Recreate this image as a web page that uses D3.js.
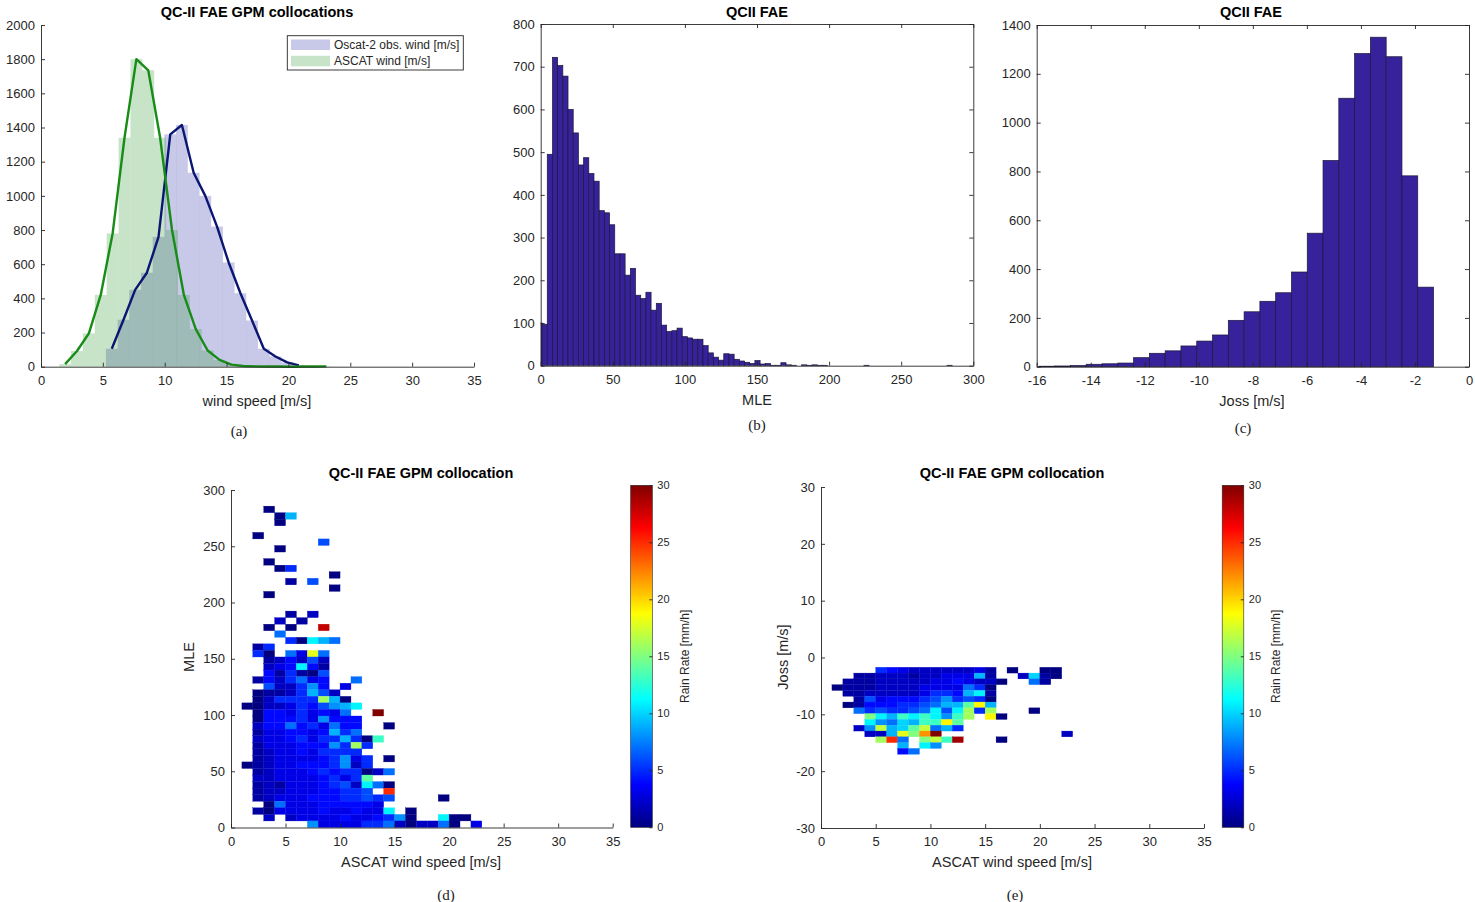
<!DOCTYPE html>
<html><head><meta charset="utf-8">
<script src="https://cdn.jsdelivr.net/npm/d3@7"></script>
<style>
body{margin:0;background:#fff;}
</style></head><body>
<svg id="fig" width="1475" height="902" xmlns="http://www.w3.org/2000/svg"></svg>
<script>
// ---------------- DATA ----------------
// (a) wind speed histograms (bin centers + counts)
const oscatCenters = [5.72, 6.67, 7.61, 8.56, 9.50, 10.45, 11.39, 12.34, 13.28, 14.23, 15.17, 16.12, 17.06, 18.01, 18.95, 19.90, 20.84];
const oscatCounts  = [105, 275, 450, 550, 760, 1360, 1415, 1135, 1000, 820, 610, 430, 270, 105, 60, 25, 8];
const ascatCenters = [1.95, 2.91, 3.87, 4.83, 5.79, 6.75, 7.71, 8.67, 9.63, 10.59, 11.55, 12.51, 13.47, 14.43, 15.39, 16.35, 17.31, 18.27, 19.23, 20.19, 21.15, 22.11, 23.07];
const ascatCounts  = [15, 92, 195, 420, 780, 1340, 1800, 1735, 1340, 800, 420, 220, 95, 40, 12, 4, 2, 1, 1, 0, 1, 1, 2];
const legendLabels = ["Oscat-2 obs. wind [m/s]", "ASCAT wind [m/s]"];
const windTicks = [0, 5, 10, 15, 20, 25, 30, 35];
const countTicksA = [0, 200, 400, 600, 800, 1000, 1200, 1400, 1600, 1800, 2000];

// (b) MLE histogram
const mleBinStart = -2.65, mleBinWidth = 3.6;
const mleCounts = [100, 97, 495, 722, 703, 678, 600, 545, 470, 487, 450, 432, 363, 358, 330, 262, 262, 212, 228, 165, 157, 172,
  130, 146, 95, 80, 82, 88, 68, 65, 62, 62, 47, 30, 20, 13, 28, 27, 15, 11, 8, 5, 12, 4, 5, 1, 1, 7, 2, 1, 0, 2, 1, 2, 1, 1,
  0, 0, 0, 0, 0, 0, 0, 1, 0, 0, 0, 0, 0, 0, 0, 0, 0, 0, 0, 0, 0, 0, 0, 1];
const mleTicks = [0, 50, 100, 150, 200, 250, 300];
const countTicksB = [0, 100, 200, 300, 400, 500, 600, 700, 800];

// (c) Joss histogram
const jossBinStart = -15.92, jossBinWidth = 0.5843;
const jossCounts = [2, 3, 5, 10, 12, 15, 37, 55, 65, 85, 105, 130, 190, 225, 268, 303, 388, 547, 845, 1100, 1283, 1350, 1270, 782, 326];
const jossTicks = [-16, -14, -12, -10, -8, -6, -4, -2, 0];
const countTicksC = [0, 200, 400, 600, 800, 1000, 1200, 1400];

// (d) MLE vs ASCAT wind speed, mean rain rate per cell (base-36 digit = mm/h, '.' = empty)
// columns = 1 m/s bins starting at 0; rows listed from top (highest MLE) to bottom
const dColStep = 1, dRowStep = 5.83;
const dRows = [
  "...0", "....09", "....0", "", "..0", "........6", "....0", "", "...0", "....05",
  ".........0", ".....1.6", ".........0", "...0", "", "", ".....1.2", "....2.1", "...0.0..s", "....7",
  ".....50b97", "..15", "..50.73i7", "...124262", "...234b41", "...415106", "..1425734..7", "...622584.3", "..01125962", "..025555g90",
  ".0022354689b", "..044353437..u", "..0444538444", "..2447453744..0", "..1334434957", "..23345355950d", "..133344485g5", "..1233435555", "..12333345835.0", ".012334445825",
  "..1233345455027", "..2233334535e", "..1213334562b70", "..12233344556.p", "..1233344455656....0", "...07333444443", "..103333433433b.0", "...2.233334334580..b00", ".......83333557202270.3"
];
const mleAxisTicks = [0, 50, 100, 150, 200, 250, 300];

// (e) Joss vs ASCAT wind speed (rows from top)
const eColStep = 1, eRowTop = -1.72, eRowStep = 1.02;
const eRows = [
  ".....54322222231.0..00", "...1122212233391..2a10", "..111222223343220..71", ".011122223333750", "..112222235549b1",
  "...1634445685650", "..01444556799ej9", "...7565567b6bg5g...0", "....fb9dbdb8dg.j0", "....b87a9ddje",
  "...28h9aeh795", "....229ifmu...........2", ".....gp7.fhdt...0", ".......9.b8", ".......47"
];
const jossAxisTicks = [-30, -20, -10, 0, 10, 20, 30];
const rainTicks = [0, 5, 10, 15, 20, 25, 30];

// ---------------- STYLE / LAYOUT ----------------
const FONT = '"Liberation Sans", Arial, Helvetica, sans-serif';
const SERIF = '"Liberation Serif", "DejaVu Serif", serif';
const AX = "#262626";
const BAR = "#37229c";
const svg = d3.select("#fig");

const jet = t => {
  t = Math.max(0, Math.min(1, t));
  const c = v => Math.round(255 * Math.max(0, Math.min(1, v)));
  return `rgb(${c(1.5 - Math.abs(4 * t - 3))},${c(1.5 - Math.abs(4 * t - 2))},${c(1.5 - Math.abs(4 * t - 1))})`;
};

function styleAxis(sel, fs) {
  sel.attr("font-size", null).attr("font-family", null);
  sel.selectAll("path.domain").attr("stroke", AX).attr("stroke-width", 0.9);
  sel.selectAll(".tick line").attr("stroke", AX).attr("stroke-width", 0.9);
  sel.selectAll(".tick text").attr("fill", AX).style("font-family", FONT).style("font-size", (fs || 13) + "px");
}

function axes(g, x, y, xt, yt, box) {
  const tl = 4;
  const fmt = d => String(d);
  const [xa, xb] = x.range(), [ya, yb] = y.range();
  styleAxis(g.append("g").attr("transform", `translate(0,${ya})`)
    .call(d3.axisBottom(x).tickValues(xt).tickSizeInner(-tl).tickSizeOuter(0).tickPadding(9).tickFormat(fmt)));
  styleAxis(g.append("g").attr("transform", `translate(${xa},0)`)
    .call(d3.axisLeft(y).tickValues(yt).tickSizeInner(-tl).tickSizeOuter(0).tickPadding(6).tickFormat(fmt)));
  if (box) {
    styleAxis(g.append("g").attr("transform", `translate(0,${yb})`)
      .call(d3.axisTop(x).tickValues(xt).tickSizeInner(-tl).tickSizeOuter(0).tickFormat("")));
    styleAxis(g.append("g").attr("transform", `translate(${xb},0)`)
      .call(d3.axisRight(y).tickValues(yt).tickSizeInner(-tl).tickSizeOuter(0).tickFormat("")));
  }
}

function text(x, y, s, o = {}) {
  const t = svg.append("text").attr("x", x).attr("y", y).text(s)
    .attr("text-anchor", o.anchor || "middle").attr("dominant-baseline", "central")
    .style("font-family", o.font || FONT).style("font-size", (o.size || 14.5) + "px")
    .attr("fill", o.fill || AX);
  if (o.bold) t.style("font-weight", "bold");
  if (o.rot) t.attr("transform", `rotate(${o.rot},${x},${y})`);
  return t;
}

function clip(id, x, y) {
  svg.append("clipPath").attr("id", id).append("rect")
    .attr("x", x.range()[0]).attr("y", y.range()[1])
    .attr("width", x.range()[1] - x.range()[0]).attr("height", y.range()[0] - y.range()[1]);
}

// ---------------- (a) ----------------
{
  const x = d3.scaleLinear().domain([0, 35]).range([41, 474]);
  const y = d3.scaleLinear().domain([0, 2000]).range([366.7, 25]);
  const g = svg.append("g");
  const series = [
    {c: oscatCenters, v: oscatCounts, fill: "rgb(35,35,163)", line: "#0b1572"},
    {c: ascatCenters, v: ascatCounts, fill: "rgb(35,147,35)", line: "#178c17"}
  ];
  series.forEach(s => {
    const w = s.c[1] - s.c[0];
    const data = s.c.map((c, i) => ({c, v: s.v[i]}));
    g.append("g").selectAll("rect").data(data).join("rect")
      .attr("x", d => x(d.c - w / 2)).attr("width", d => x(d.c + w / 2) - x(d.c - w / 2))
      .attr("y", d => y(d.v)).attr("height", d => y(0) - y(d.v))
      .attr("fill", s.fill).attr("fill-opacity", 0.25);
  });
  series.forEach(s => {
    const data = s.c.map((c, i) => ({c, v: s.v[i]}));
    g.append("path").datum(data)
      .attr("d", d3.line().x(d => x(d.c)).y(d => y(d.v)))
      .attr("fill", "none").attr("stroke", s.line).attr("stroke-width", 2.4).attr("stroke-linejoin", "round");
  });
  axes(g, x, y, windTicks, countTicksA, false);
  // legend
  const lg = svg.append("g");
  lg.append("rect").attr("x", 287.3).attr("y", 35.7).attr("width", 176).attr("height", 34.3)
    .attr("fill", "#fff").attr("stroke", AX).attr("stroke-width", 0.9);
  series.forEach((s, i) => {
    lg.append("rect").attr("x", 291).attr("y", 39.5 + i * 16.3).attr("width", 39).attr("height", 10.5)
      .attr("fill", s.fill).attr("fill-opacity", 0.25);
    lg.append("text").attr("x", 334).attr("y", 45 + i * 16.3).text(legendLabels[i])
      .attr("dominant-baseline", "central").style("font-family", FONT).style("font-size", "12px").attr("fill", AX);
  });
  text(257, 12, "QC-II FAE GPM collocations", {bold: true, fill: "#000", size: 14.5});
  text(257, 401, "wind speed [m/s]");
  text(239, 431, "(a)", {font: SERIF, size: 15, fill: "#222"});
}

// ---------------- (b) ----------------
{
  const x = d3.scaleLinear().domain([0, 300]).range([540.7, 973.3]);
  const y = d3.scaleLinear().domain([0, 800]).range([365.7, 24]);
  clip("clipB", x, y);
  const g = svg.append("g");
  const data = mleCounts.map((v, i) => ({x0: mleBinStart + i * mleBinWidth, x1: mleBinStart + (i + 1) * mleBinWidth, v}));
  g.append("g").attr("clip-path", "url(#clipB)").selectAll("rect").data(data.filter(d => d.v > 0)).join("rect")
    .attr("x", d => x(d.x0)).attr("width", d => x(d.x1) - x(d.x0))
    .attr("y", d => y(d.v)).attr("height", d => y(0) - y(d.v))
    .attr("fill", BAR).attr("stroke", "#1c1838").attr("stroke-width", 0.7);
  axes(g, x, y, mleTicks, countTicksB, true);
  text(757, 12, "QCII FAE", {bold: true, fill: "#000", size: 14.5});
  text(757, 400, "MLE");
  text(757, 425, "(b)", {font: SERIF, size: 15, fill: "#222"});
}

// ---------------- (c) ----------------
{
  const x = d3.scaleLinear().domain([-16, 0]).range([1036.7, 1469]);
  const y = d3.scaleLinear().domain([0, 1400]).range([366.7, 25]);
  const g = svg.append("g");
  const data = jossCounts.map((v, i) => ({x0: jossBinStart + i * jossBinWidth, x1: jossBinStart + (i + 1) * jossBinWidth, v}));
  g.append("g").selectAll("rect").data(data).join("rect")
    .attr("x", d => x(d.x0)).attr("width", d => x(d.x1) - x(d.x0))
    .attr("y", d => y(d.v)).attr("height", d => y(0) - y(d.v))
    .attr("fill", BAR).attr("stroke", "#1c1838").attr("stroke-width", 0.7);
  axes(g, x, y, jossTicks, countTicksC, true);
  text(1251, 12, "QCII FAE", {bold: true, fill: "#000", size: 14.5});
  text(1252, 401, "Joss [m/s]");
  text(1243, 428, "(c)", {font: SERIF, size: 15, fill: "#222"});
}

// ---------------- heatmap helper ----------------
function cellsFrom(rows, rowBounds, colStep) {
  const out = [];
  rows.forEach((str, i) => {
    const [yLo, yHi] = rowBounds(i);
    for (let c = 0; c < str.length; c++) {
      const ch = str[c];
      if (ch === ".") continue;
      out.push({x0: c * colStep, x1: (c + 1) * colStep, y0: yLo, y1: yHi, v: parseInt(ch, 36)});
    }
  });
  return out;
}
function drawCells(g, cells, x, y) {
  g.append("g").selectAll("rect").data(cells).join("rect")
    .attr("x", d => x(d.x0)).attr("width", d => x(d.x1) - x(d.x0))
    .attr("y", d => y(d.y1)).attr("height", d => y(d.y0) - y(d.y1))
    .attr("fill", d => jet(d.v / 30)).attr("stroke", d => jet(d.v / 30)).attr("stroke-width", 0.3);
}
let gradDone = false;
function colorbar(x0, x1, y0, y1, labelX) {
  if (!gradDone) {
    const lg = svg.append("defs").append("linearGradient").attr("id", "jetGrad")
      .attr("x1", 0).attr("y1", 1).attr("x2", 0).attr("y2", 0);
    d3.range(0, 1.0001, 1 / 64).forEach(t => lg.append("stop").attr("offset", t).attr("stop-color", jet(t)));
    gradDone = true;
  }
  const s = d3.scaleLinear().domain([0, 30]).range([y0, y1]);
  svg.append("rect").attr("x", x0).attr("y", y1).attr("width", x1 - x0).attr("height", y0 - y1)
    .attr("fill", "url(#jetGrad)").attr("stroke", AX).attr("stroke-width", 0.6);
  const ax = svg.append("g").attr("transform", `translate(${x1},0)`)
    .call(d3.axisRight(s).tickValues(rainTicks).tickSizeInner(-3).tickSizeOuter(0).tickPadding(5).tickFormat(d => String(d)));
  styleAxis(ax, 11);
  ax.select("path.domain").remove();
  text(labelX, (y0 + y1) / 2, "Rain Rate [mm/h]", {size: 12, rot: -90});
}

// ---------------- (d) ----------------
{
  const x = d3.scaleLinear().domain([0, 35]).range([231, 612.7]);
  const y = d3.scaleLinear().domain([0, 300]).range([827.5, 490]);
  const g = svg.append("g");
  const n = dRows.length;
  const cells = cellsFrom(dRows, i => [(n - 1 - i) * dRowStep, (n - i) * dRowStep], dColStep);
  drawCells(g, cells, x, y);
  axes(g, x, y, windTicks, mleAxisTicks, false);
  colorbar(630.7, 652.3, 827.3, 485.3, 685);
  text(421, 473, "QC-II FAE GPM collocation", {bold: true, fill: "#000", size: 14.5});
  text(421, 862, "ASCAT wind speed [m/s]");
  text(189, 657, "MLE", {rot: -90});
  text(446, 895, "(d)", {font: SERIF, size: 15, fill: "#222"});
}

// ---------------- (e) ----------------
{
  const x = d3.scaleLinear().domain([0, 35]).range([821, 1204]);
  const y = d3.scaleLinear().domain([-30, 30]).range([828, 487]);
  const g = svg.append("g");
  const cells = cellsFrom(eRows, i => [eRowTop - (i + 1) * eRowStep, eRowTop - i * eRowStep], eColStep);
  drawCells(g, cells, x, y);
  axes(g, x, y, windTicks, jossAxisTicks, false);
  colorbar(1222.2, 1243.8, 827.3, 485.3, 1276);
  text(1012, 473, "QC-II FAE GPM collocation", {bold: true, fill: "#000", size: 14.5});
  text(1012, 862, "ASCAT wind speed [m/s]");
  text(783, 657, "Joss [m/s]", {rot: -90});
  text(1015, 895, "(e)", {font: SERIF, size: 15, fill: "#222"});
}
</script>
</body></html>
